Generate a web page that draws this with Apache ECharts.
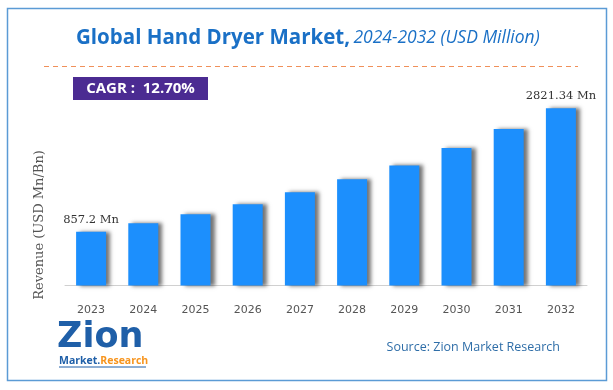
<!DOCTYPE html>
<html>
<head>
<meta charset="utf-8">
<script src="https://cdn.jsdelivr.net/npm/echarts@6/dist/echarts.min.js"></script>
<style>
html,body{margin:0;padding:0;background:#fff;}
#chart{width:613px;height:390px;}
</style>
</head>
<body>
<div id="chart"></div>
<script>
var years = ['2023','2024','2025','2026','2027','2028','2029','2030','2031','2032'];
var revenue = [857.2, 990, 1133, 1292, 1483, 1690, 1912, 2187, 2489, 2821.34];
var labelIndexes = [0, 9];
var titleMain = 'Global Hand Dryer Market,';
var titleSub = '2024-2032 (USD Million)';
var cagrText = 'CAGR :  12.70%';
var yAxisTitle = 'Revenue (USD Mn/Bn)';
var sourceText = 'Source: Zion Market Research';

var chart = echarts.init(document.getElementById('chart'), null, {renderer:'canvas'});
var option = {
  animation: false,
  backgroundColor: '#ffffff',
  grid: {left: 65, right: 26, top: 97, bottom: 95},
  xAxis: {
    type: 'category',
    data: years,
    axisLine: {show: true, lineStyle: {color: '#d0d0d0', width: 1}},
    axisTick: {show: false},
    axisLabel: {color: '#555555', fontFamily: 'DejaVu Sans', fontSize: 11, margin: 10}
  },
  yAxis: {
    type: 'value',
    min: -150,
    max: 3000,
    show: false,
    splitLine: {show: false}
  },
  series: [{
    type: 'bar',
    data: revenue,
    barWidth: 30,
    itemStyle: {
      color: '#1c8ffd',
      shadowColor: 'rgba(0,0,0,0.55)',
      shadowBlur: 4,
      shadowOffsetX: 4,
      shadowOffsetY: 0
    },
    label: {
      show: true,
      position: 'top',
      distance: 6,
      fontFamily: 'DejaVu Serif',
      fontSize: 11.5,
      color: '#333333',
      formatter: function (p) {
        return labelIndexes.indexOf(p.dataIndex) >= 0 ? p.value + ' Mn' : '';
      }
    }
  }],
  graphic: [
    {type: 'rect', shape: {x: 7.5, y: 8.5, width: 599, height: 372}, style: {fill: 'none', stroke: '#5b9bd5', lineWidth: 1.5}, silent: true},
    {type: 'text', x: 76, y: 38, style: {
      text: '{a|' + titleMain + '} {b|' + titleSub + '}',
      textVerticalAlign: 'middle',
      rich: {
        a: {fontFamily: 'Open Sans', fontWeight: 'bold', fontSize: 20.5, fill: '#1a70c6', color: '#1a70c6'},
        b: {fontFamily: 'Open Sans', fontStyle: 'italic', fontSize: 17.5, fill: '#1a70c6', color: '#1a70c6'}
      }
    }},
    {type: 'line', shape: {x1: 44, y1: 66.5, x2: 578, y2: 66.5}, style: {stroke: '#f0905a', lineWidth: 1.2, lineDash: [5, 4]}},
    {type: 'rect', shape: {x: 73, y: 77, width: 135, height: 23}, style: {fill: '#4b2b92'}},
    {type: 'text', x: 140.5, y: 89, style: {text: cagrText, fontFamily: 'Open Sans', fontWeight: 'bold', fontSize: 15, fill: '#ffffff', textAlign: 'center', textVerticalAlign: 'middle'}},
    {type: 'text', x: 40, y: 225, rotation: Math.PI / 2, style: {text: yAxisTitle, fontFamily: 'DejaVu Serif', fontSize: 13, fill: '#555555', textAlign: 'center', textVerticalAlign: 'middle'}},
    {type: 'text', x: 560, y: 347, style: {text: sourceText, fontFamily: 'Open Sans', fontSize: 12.5, fill: '#2f6ea8', textAlign: 'right', textVerticalAlign: 'middle'}},
    {type: 'text', x: 57, y: 338, style: {text: 'Zion', fontFamily: 'DejaVu Sans', fontWeight: 'bold', fontSize: 35, fill: '#1f5fa8', textVerticalAlign: 'middle'}},
    {type: 'text', x: 59, y: 361, style: {
      text: '{m|Market.}{r|Research}',
      textVerticalAlign: 'middle',
      rich: {
        m: {fontFamily: 'Open Sans', fontWeight: 'bold', fontSize: 10.5, fill: '#1f5fa8', color: '#1f5fa8'},
        r: {fontFamily: 'Open Sans', fontWeight: 'bold', fontSize: 10.5, fill: '#f7941d', color: '#f7941d'}
      }
    }},
    {type: 'line', shape: {x1: 59, y1: 367, x2: 146, y2: 367}, style: {stroke: '#1f5fa8', lineWidth: 1}}
  ]
};
chart.setOption(option);
</script>
</body>
</html>
